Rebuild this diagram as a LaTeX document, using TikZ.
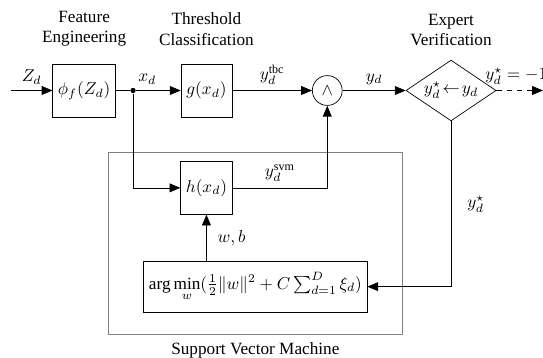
\documentclass[tikz,border=0pt]{standalone}
\usepackage{fontspec}
\setmainfont{Liberation Serif}
\usepackage{tikz}
\usetikzlibrary{arrows.meta, positioning, shapes.geometric}

\begin{document}
\begin{tikzpicture}[>={Triangle[length=2.2mm, width=1.8mm]},
        blk/.style={draw, minimum width=1.04cm, minimum height=1.08cm, inner sep=3pt},
        ttl/.style={align=center}]
        \useasboundingbox (0,0) rectangle (11.10,-7.30);
        \node[draw=gray, semithick, minimum width=6.01cm, minimum height=3.72cm] (svm) at (5.22,-4.97) {};
        \node[below=1pt of svm] (svmlbl) {Support Vector Machine};
        \node[ttl] (fe) at (1.72,-0.59) {Feature\\Engineering};
        \node[ttl] (tc) at (4.22,-0.59) {Threshold\\Classification};
        \node[ttl] (ev) at (9.22,-0.61) {Expert\\Verification};
        \coordinate (in) at (0.22,-1.85);
        \node[blk, minimum width=1.23cm] (phi) at (1.72,-1.85) {$\phi_f(Z_d)$};
        \node[circle, fill, inner sep=1.1pt] (split) at (2.72,-1.85) {};
        \node[blk] (g) at (4.22,-1.85) {$g(x_d)$};
        \node[draw, circle, minimum size=0.61cm, inner sep=0pt] (and) at (6.69,-1.85) {$\wedge$};
        \node[draw, diamond, minimum width=1.84cm, minimum height=1.19cm, inner sep=-1.5pt] (ver) at (9.22,-1.85)
            {$y_d^\star\!\leftarrow\! y_d$};
        \coordinate (out) at (11.10,-1.85);
        \node[blk] (h) at (4.22,-3.84) {$h(x_d)$};
        \node[blk, minimum width=4.44cm, minimum height=1.04cm] (opt) at (5.22,-5.86)
            {$\arg\min\limits_w(\frac{1}{2}\|w\|^2 + C\sum_{d=1}^{D}\xi_d)$};
        \node[anchor=south west, xshift=-10pt] (neg) at (ver.east) {$y_d^\star = -1$};
        \draw[->] (in) -- node[above] (zlbl) {$Z_d$} (phi);
        \draw (phi) -- (split);
        \draw[->] (split) -- node[pos=0.25, above] (xlbl) {$x_d$} (g);
        \draw[->] (g) -- node[above] (tbclbl) {$y_d^{\mathrm{tbc}}$} (and);
        \draw[->] (and) -- node[above] (ylbl) {$y_d$} (ver);
        \draw[->, dashed] (ver) -- (out);
        \draw[->] (split) |- (h);
        \draw[->] (h) -| node[pos=0.25, above] (svmout) {$y_d^{\mathrm{svm}}$} (and);
        \draw[->] (opt.north -| h) -- node[right=3pt] (wb) {$w, b$} (h);
        \draw[->] (ver) |- node[pos=0.25, right=6pt] (fb) {$y_d^\star$} (opt);
    \end{tikzpicture}
\end{document}
